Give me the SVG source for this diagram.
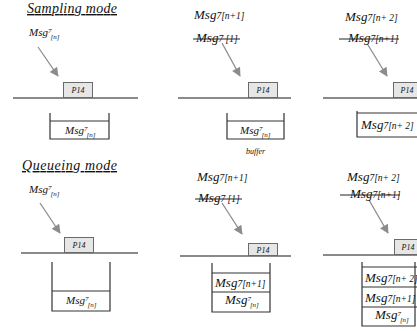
<svg xmlns="http://www.w3.org/2000/svg" width="417" height="331" viewBox="0 0 417 331" font-family="'Liberation Serif', 'DejaVu Serif', serif">
<defs>
<marker id="ah" viewBox="0 0 10 10" refX="9" refY="5" markerWidth="10" markerHeight="9" markerUnits="userSpaceOnUse" orient="auto">
<path d="M0,0 L10,5 L0,10 z" fill="#8c8c8c"/>
</marker>
</defs>
<style>
text{font-family:'Liberation Serif','DejaVu Serif',serif;font-style:italic;fill:#111}
.title{font-size:14px;text-decoration:underline}
.m{font-size:11px}
.L{font-size:13px}
.s{font-size:7px}
.s2{font-size:9.5px}
.p{font-size:8px;text-anchor:middle}
.buf{font-size:8px}
.wire{stroke:#8a8a8a;stroke-width:2;fill:none}
.port{fill:#e6e6e6;stroke:#6a6a6a;stroke-width:1}
.box{fill:none;stroke:#333;stroke-width:1.2}
.arr{stroke:#8c8c8c;stroke-width:1.3;fill:none;marker-end:url(#ah)}
.strike{stroke:#222;stroke-width:1}
</style>
<rect width="417" height="331" fill="#fff"/>

<text class="title" x="27" y="13" textLength="90">Sampling mode</text>
<text class="title" x="22" y="170" textLength="95">Queueing mode</text>

<g id="connectors">
<line class="arr" x1="38" y1="47" x2="58" y2="76"/>
<line class="arr" x1="222" y1="43" x2="240" y2="76"/>
<line class="arr" x1="368" y1="45" x2="387" y2="76"/>
<line class="arr" x1="40" y1="203" x2="60" y2="233"/>
<line class="arr" x1="222" y1="203" x2="242" y2="234"/>
<line class="arr" x1="369" y1="200" x2="388" y2="233"/>
</g>

<!-- Sampling 1 -->
<g id="s1">
<text class="m" x="29" y="36">Msg<tspan class="s" dy="-3">7</tspan><tspan class="s" dx="-1" dy="6">[n]</tspan></text>
<line class="wire" x1="13" y1="98" x2="138" y2="98"/>
<rect class="port" x="63.5" y="82.5" width="29" height="15"/>
<text class="p" x="78" y="93">P14</text>
<path class="box" d="M50,113 V139 H109 V113 M50,121 H109"/>
<text class="m" x="65" y="134">Msg<tspan class="s" dy="-3">7</tspan><tspan class="s" dx="-1" dy="6">[n]</tspan></text>
</g>

<!-- Sampling 2 -->
<g id="s2">
<text class="L" x="194" y="19">Msg<tspan class="s2">7[n+1]</tspan></text>
<text class="L" x="196" y="42">Msg<tspan class="s2">7 [1]</tspan></text>
<line class="strike" x1="193" y1="39" x2="240" y2="39"/>
<line class="wire" x1="178" y1="98" x2="291" y2="98"/>
<rect class="port" x="248.5" y="82.5" width="29" height="15"/>
<text class="p" x="263" y="93">P14</text>
<path class="box" d="M227,113 V139 H284 V113 M227,121 H284"/>
<text class="m" x="240" y="134">Msg<tspan class="s" dy="-3">7</tspan><tspan class="s" dx="-1" dy="6">[n]</tspan></text>
<text class="buf" x="246" y="154">buffer</text>
</g>

<!-- Sampling 3 -->
<g id="s3">
<text class="L" x="345" y="21">Msg<tspan class="s2">7[n+ 2]</tspan></text>
<text class="L" x="348" y="42">Msg<tspan class="s2">7[n+1]</tspan></text>
<line class="strike" x1="339" y1="39" x2="399" y2="39"/>
<line class="wire" x1="323" y1="98" x2="417" y2="98"/>
<rect class="port" x="393.5" y="82.5" width="29" height="15"/>
<text class="p" x="407" y="93">P14</text>
<path class="box" d="M357,111 V137 H418 M357,113 H418"/>
<text class="L" x="361" y="129">Msg<tspan class="s2">7[n+ 2]</tspan></text>
</g>

<!-- Queueing 1 -->
<g id="q1">
<text class="m" x="29" y="193">Msg<tspan class="s" dy="-3">7</tspan><tspan class="s" dx="-1" dy="6">[n]</tspan></text>
<line class="wire" x1="21" y1="253" x2="138" y2="253"/>
<rect class="port" x="64.5" y="237.5" width="29" height="15"/>
<text class="p" x="79" y="248">P14</text>
<path class="box" d="M52,262 V311 H110 V262 M52,291 H110"/>
<text class="m" x="66" y="304">Msg<tspan class="s" dy="-3">7</tspan><tspan class="s" dx="-1" dy="6">[n]</tspan></text>
</g>

<!-- Queueing 2 -->
<g id="q2">
<text class="L" x="197" y="181">Msg<tspan class="s2">7[n+1]</tspan></text>
<text class="L" x="198" y="202">Msg<tspan class="s2">7 [1]</tspan></text>
<line class="strike" x1="195" y1="199" x2="242" y2="199"/>
<line class="wire" x1="180" y1="256" x2="291" y2="256"/>
<rect class="port" x="248.5" y="243.5" width="29" height="12"/>
<text class="p" x="263" y="253">P14</text>
<path class="box" d="M212,263 V312 H270 V263 M212,273 H270 M212,292 H270"/>
<text class="L" x="215" y="287">Msg<tspan class="s2">7[n+1]</tspan></text>
<text class="L" x="225" y="304">Msg<tspan class="s" dy="-3">7</tspan><tspan class="s" dx="-1" dy="6">[n]</tspan></text>
</g>

<!-- Queueing 3 -->
<g id="q3">
<text class="L" x="347" y="181">Msg<tspan class="s2">7[n+ 2]</tspan></text>
<text class="L" x="350" y="198">Msg<tspan class="s2">7[n+1]</tspan></text>
<line class="strike" x1="340" y1="195" x2="400" y2="195"/>
<line class="wire" x1="323" y1="255" x2="417" y2="255"/>
<rect class="port" x="394.5" y="239.5" width="29" height="15"/>
<text class="p" x="408" y="250">P14</text>
<path class="box" d="M362,262 V326 H415 V262 M362,267 H418 M362,287 H418 M362,307 H418"/>
<text class="L" x="365" y="282">Msg<tspan class="s2">7[n+ 2]</tspan></text>
<text class="L" x="365" y="302">Msg<tspan class="s2">7[n+1]</tspan></text>
<text class="L" x="375" y="319">Msg<tspan class="s" dy="-3">7</tspan><tspan class="s" dx="-1" dy="6">[n]</tspan></text>
</g>
</svg>
